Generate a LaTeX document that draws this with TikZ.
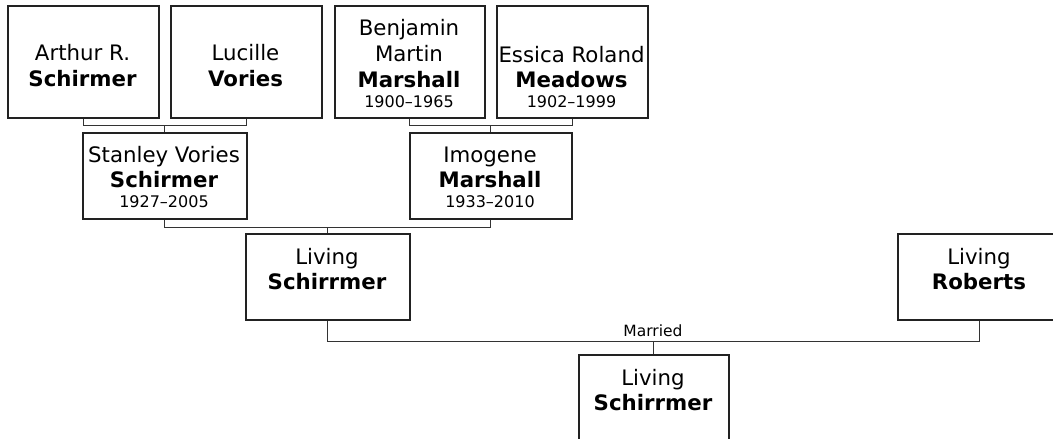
\documentclass[tikz,border=0pt]{standalone}
\usepackage{fontspec}
\usetikzlibrary{calc}
\setmainfont{DejaVu Sans}
\definecolor{boxc}{HTML}{222222}
\definecolor{linec}{HTML}{333333}
\tikzset{
  person/.style={draw=boxc, line width=1.6pt, fill=white, anchor=north west, inner sep=0pt},
  conn/.style={draw=linec, line width=1.3pt},
  nm/.style={font=\fontsize{21.3}{26}\selectfont, anchor=base, inner sep=0pt},
  nmb/.style={font=\fontsize{21.3}{26}\selectfont\bfseries, anchor=base, inner sep=0pt},
  dt/.style={font=\fontsize{16}{20}\selectfont, anchor=base, inner sep=0pt},
  lbl/.style={font=\fontsize{15.5}{19}\selectfont, anchor=base, inner sep=0pt}
}
\begin{document}
\begin{tikzpicture}[x=1pt,y=-1pt]
\useasboundingbox (0,0) rectangle (1053,439);
\clip (0,0) rectangle (1053,439);
% boxes
\node[person, minimum width=151pt, minimum height=112pt] (arthur) at (7,5) {};
\node[person, minimum width=151pt, minimum height=112pt] (lucille) at (170,5) {};
\node[person, minimum width=150pt, minimum height=112pt] (benjamin) at (334,5) {};
\node[person, minimum width=151pt, minimum height=112pt] (essica) at (496,5) {};
\node[person, minimum width=164pt, minimum height=86pt] (stanley) at (82,132) {};
\node[person, minimum width=162pt, minimum height=86pt] (imogene) at (409,132) {};
\node[person, minimum width=164pt, minimum height=86pt] (living1) at (245,233) {};
\node[person, minimum width=164pt, minimum height=86pt] (roberts) at (897,233) {};
\node[person, minimum width=150pt, minimum height=90pt] (child) at (578,354) {};
% texts
\node[nm]  (arthur1) at (82.5,60) {Arthur R.};
\node[nmb] (arthur2) at (82.5,86) {Schirmer};
\node[nm]  (lucille1) at (245.5,60) {Lucille};
\node[nmb] (lucille2) at (245.5,86) {Vories};
\node[nm]  (benj1) at (409,35) {Benjamin};
\node[nm]  (benj2) at (409,61) {Martin};
\node[nmb] (benj3) at (409,87) {Marshall};
\node[dt]  (benj4) at (409,107) {1900–1965};
\node[nm]  (essica1) at (571.5,62) {Essica Roland};
\node[nmb] (essica2) at (571.5,87) {Meadows};
\node[dt]  (essica3) at (571.5,107) {1902–1999};
\node[nm]  (stanley1) at (164,162) {Stanley Vories};
\node[nmb] (stanley2) at (164,187) {Schirmer};
\node[dt]  (stanley3) at (164,207) {1927–2005};
\node[nm]  (imogene1) at (490,162) {Imogene};
\node[nmb] (imogene2) at (490,187) {Marshall};
\node[dt]  (imogene3) at (490,207) {1933–2010};
\node[nm]  (living1a) at (327,264) {Living};
\node[nmb] (living1b) at (327,289) {Schirrmer};
\node[nm]  (roberts1) at (979,264) {Living};
\node[nmb] (roberts2) at (979,289) {Roberts};
\node[nm]  (child1) at (653,385) {Living};
\node[nmb] (child2) at (653,410) {Schirrmer};
% connectors
\coordinate (j1) at ($(arthur.south)+(0,7)$);
\draw[conn] (arthur.south) -- ++(0,7) -| (lucille.south);
\draw[conn] (stanley.north) -- (stanley.north |- j1);
\coordinate (j2) at ($(benjamin.south)+(0,7)$);
\draw[conn] (benjamin.south) -- ++(0,7) -| (essica.south);
\draw[conn] (imogene.north) -- (imogene.north |- j2);
\coordinate (j3) at ($(stanley.south)+(0,8)$);
\draw[conn] (stanley.south) -- ++(0,8) -| (imogene.south);
\draw[conn] (living1.north) -- (living1.north |- j3);
\coordinate (j4) at ($(living1.south)+(0,21)$);
\draw[conn] (living1.south) -- ++(0,21) -| (roberts.south);
\draw[conn] (child.north) -- (child.north |- j4);
\node[lbl] (married) at (653,336) {Married};
\end{tikzpicture}
\end{document}
